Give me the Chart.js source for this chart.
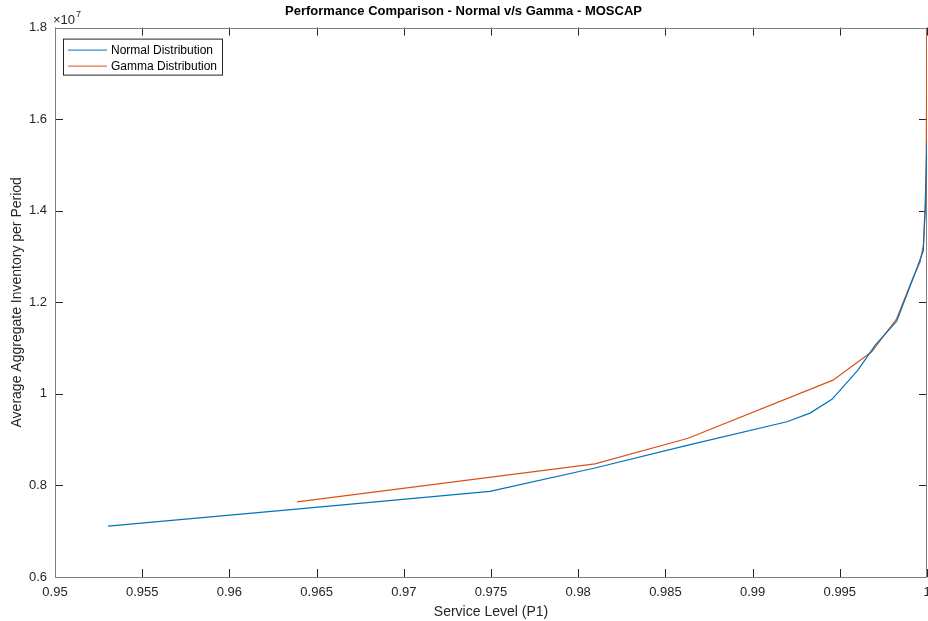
<!DOCTYPE html>
<html>
<head>
<meta charset="utf-8">
<script src="https://cdn.jsdelivr.net/npm/chart.js@4"></script>
<style>
  html, body { margin: 0; padding: 0; background: #fff; }
  #wrap { width: 928px; height: 621px; }
</style>
</head>
<body>
<div id="wrap"><canvas id="chart" width="928" height="621"></canvas></div>
<script>
const normalX = [0.95304, 0.9640, 0.97494, 0.98096, 0.98630, 0.99197, 0.99329, 0.99455, 0.99604, 0.99702, 0.99826, 0.99931, 0.99979, 0.99989, 1.0];
const normalY = [7.11e6, 7.49e6, 7.87e6, 8.38e6, 8.88e6, 9.39e6, 9.58e6, 9.88e6, 10.52e6, 11.06e6, 11.59e6, 12.63e6, 13.13e6, 14.08e6, 15.5e6];
const gammaX = [0.96388, 0.98096, 0.98630, 0.99461, 0.99683, 0.99826, 0.99921, 0.99960, 0.99979, 0.99994, 1.0];
const gammaY = [7.64e6, 8.47e6, 9.03e6, 10.30e6, 10.92e6, 11.64e6, 12.55e6, 12.88e6, 13.24e6, 14.3e6, 18.0e6];
const xTicks = [0.95, 0.955, 0.96, 0.965, 0.97, 0.975, 0.98, 0.985, 0.99, 0.995, 1];
const yTicks = [0.6e7, 0.8e7, 1.0e7, 1.2e7, 1.4e7, 1.6e7, 1.8e7];

const FONT = "'Liberation Sans', Arial, Helvetica, sans-serif";
const AXIS_COLOR = "#262626";

function toPoints(xs, ys) {
  return xs.map((x, i) => ({ x: x, y: ys[i] }));
}

// box and inward ticks under the lines, exponent + legend on top
const matlabAxes = {
  id: "matlabAxes",
  beforeDatasetsDraw(chart) {
    const ctx = chart.ctx;
    const area = chart.chartArea;
    const xs = chart.scales.x;
    const ys = chart.scales.y;
    const tl = 8;
    ctx.save();
    ctx.strokeStyle = "#262626";
    ctx.lineWidth = 1;
    ctx.beginPath();
    xTicks.forEach((v) => {
      const px = Math.round(xs.getPixelForValue(v)) + 0.5;
      ctx.moveTo(px, area.bottom);
      ctx.lineTo(px, area.bottom - tl);
      ctx.moveTo(px, area.top);
      ctx.lineTo(px, area.top + tl);
    });
    yTicks.forEach((v) => {
      const py = Math.round(ys.getPixelForValue(v)) + 0.5;
      ctx.moveTo(area.left, py);
      ctx.lineTo(area.left + tl, py);
      ctx.moveTo(area.right, py);
      ctx.lineTo(area.right - tl, py);
    });
    ctx.stroke();
    ctx.strokeStyle = "#7f7f7f";
    ctx.strokeRect(Math.round(area.left) + 0.5, Math.round(area.top) + 0.5,
      Math.round(area.right - area.left) - 1, Math.round(area.bottom - area.top));
    ctx.restore();
  },
  afterDatasetsDraw(chart) {
    const ctx = chart.ctx;
    const area = chart.chartArea;
    ctx.save();
    // exponent
    ctx.fillStyle = AXIS_COLOR;
    ctx.textBaseline = "alphabetic";
    ctx.textAlign = "left";
    ctx.font = "13px " + FONT;
    ctx.fillText("\u00d710", area.left - 2, area.top - 4);
    const w = ctx.measureText("\u00d710").width;
    ctx.font = "9px " + FONT;
    ctx.fillText("7", area.left - 2 + w + 1, area.top - 11);

    // legend
    const lx = area.left + 8, ly = area.top + 11;
    ctx.fillStyle = "#fff";
    ctx.fillRect(lx, ly, 159, 36);
    ctx.strokeStyle = "#262626";
    ctx.lineWidth = 1;
    ctx.strokeRect(lx + 0.5, ly + 0.5, 159, 36);
    ctx.font = "12px " + FONT;
    ctx.textBaseline = "middle";
    chart.data.datasets.forEach((ds, i) => {
      const yy = ly + 11 + i * 16;
      ctx.strokeStyle = ds.borderColor;
      ctx.beginPath();
      ctx.moveTo(lx + 5, yy + 0.5);
      ctx.lineTo(lx + 44, yy + 0.5);
      ctx.stroke();
      ctx.fillStyle = "#000";
      ctx.fillText(ds.label, lx + 48, yy + 1);
    });
    ctx.restore();
  },
};

new Chart(document.getElementById("chart").getContext("2d"), {
  type: "line",
  data: {
    datasets: [
      {
        label: "Normal Distribution",
        data: toPoints(normalX, normalY),
        borderColor: "#0072BD",
        borderWidth: 1.2,
        pointRadius: 0,
        tension: 0,
      },
      {
        label: "Gamma Distribution",
        data: toPoints(gammaX, gammaY),
        borderColor: "#D95319",
        borderWidth: 1.2,
        pointRadius: 0,
        tension: 0,
      },
    ],
  },
  options: {
    responsive: false,
    animation: false,
    layout: { padding: { left: 0, right: 1, top: 0, bottom: 0 } },
    plugins: {
      legend: { display: false },
      tooltip: { enabled: false },
      title: {
        display: true,
        text: "Performance Comparison - Normal v/s Gamma - MOSCAP",
        color: "#000",
        font: { family: FONT, size: 13, weight: "bold" },
        padding: { top: 4, bottom: 8 },
      },
    },
    scales: {
      x: {
        type: "linear",
        min: 0.95,
        max: 1,
        afterFit(scale) {
          scale.height = 44;
          scale.paddingLeft = 0;
          scale.paddingRight = 0;
        },
        afterBuildTicks(scale) { scale.ticks = xTicks.map((v) => ({ value: v })); },
        grid: { display: false, drawTicks: false },
        border: { display: false },
        ticks: {
          color: AXIS_COLOR,
          font: { family: FONT, size: 13 },
          padding: 8,
          maxRotation: 0,
          autoSkip: false,
          callback: (v) => String(v),
        },
        title: {
          display: true,
          text: "Service Level (P1)",
          color: AXIS_COLOR,
          font: { family: FONT, size: 14 },
          padding: { top: 2, bottom: 0 },
        },
      },
      y: {
        type: "linear",
        min: 0.6e7,
        max: 1.8e7,
        afterFit(scale) {
          scale.width = 55;
          scale.paddingTop = 0;
          scale.paddingBottom = 0;
        },
        afterBuildTicks(scale) { scale.ticks = yTicks.map((v) => ({ value: v })); },
        grid: { display: false, drawTicks: false },
        border: { display: false },
        ticks: {
          color: AXIS_COLOR,
          font: { family: FONT, size: 13 },
          padding: 8,
          autoSkip: false,
          callback: (v) => String(Math.round(v / 1e6) / 10),
        },
        title: {
          display: true,
          text: "Average Aggregate Inventory per Period",
          color: AXIS_COLOR,
          font: { family: FONT, size: 14 },
          padding: { top: 9, bottom: 0 },
        },
      },
    },
  },
  plugins: [matlabAxes],
});
</script>
</body>
</html>
